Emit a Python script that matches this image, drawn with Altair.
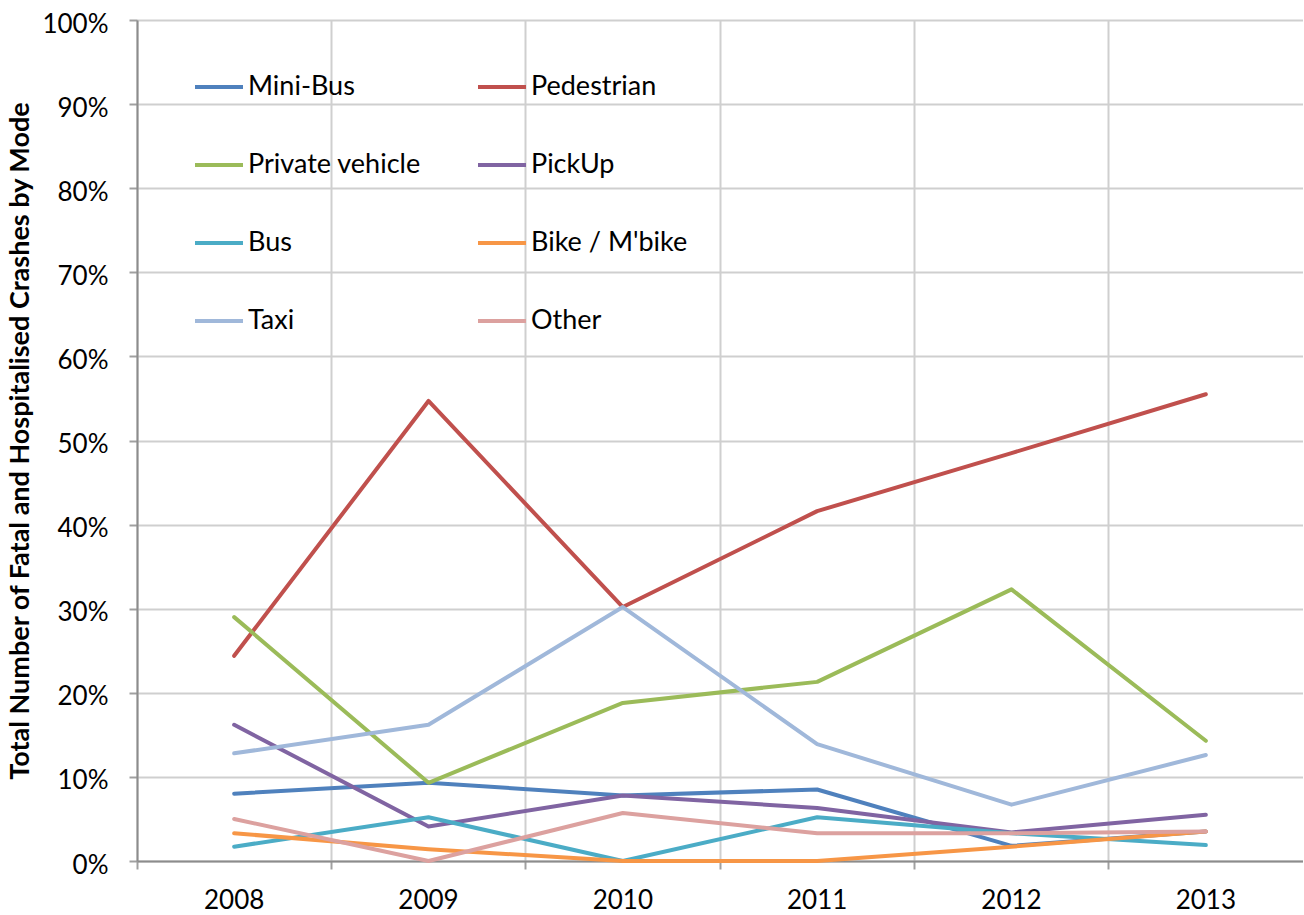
import altair as alt
import pandas as pd

years = ["2008", "2009", "2010", "2011", "2012", "2013"]
series = ["Mini-Bus", "Pedestrian", "Private vehicle", "PickUp", "Bus", "Bike / M'bike", "Taxi", "Other"]
colors = ["#4f81bd", "#c0504d", "#9bbb59", "#8064a2", "#4bacc6", "#f79646", "#a0b8da", "#dca19f"]

mini_bus = [8.0, 9.3, 7.8, 8.5, 1.8, 3.5]
pedestrian = [24.4, 54.7, 30.2, 41.6, 48.5, 55.5]
private_vehicle = [29.0, 9.3, 18.8, 21.3, 32.3, 14.3]
pickup = [16.2, 4.1, 7.8, 6.3, 3.4, 5.5]
bus = [1.7, 5.2, 0.0, 5.2, 3.3, 1.9]
bike = [3.3, 1.4, 0.0, 0.0, 1.7, 3.5]
taxi = [12.8, 16.2, 30.2, 13.9, 6.7, 12.6]
other = [5.0, 0.0, 5.7, 3.3, 3.3, 3.5]

values = [mini_bus, pedestrian, private_vehicle, pickup, bus, bike, taxi, other]
rows = []
for s, vals in zip(series, values):
    for y, v in zip(years, vals):
        rows.append({"Year": y, "Mode": s, "Share": v / 100.0})
df = pd.DataFrame(rows)

FONT = "Lato"

chart = alt.Chart(df).mark_line(strokeWidth=4, strokeCap="round", strokeJoin="round").encode(
    x=alt.X("Year:O", bandPosition=0.5,
            scale=alt.Scale(type="band", paddingInner=0, paddingOuter=0, domain=years),
            axis=alt.Axis(title=None, bandPosition=0, labelAngle=0, grid=True,
                          gridColor="#cfcfcf", gridWidth=2, tickColor="#a0a0a0", tickWidth=2,
                          tickSize=8, domainColor="#8c8c8c", domainWidth=2,
                          labelFont=FONT, labelFontSize=26, labelColor="#000000",
                          labelPadding=18, labelAlign="center")),
    y=alt.Y("Share:Q", scale=alt.Scale(domain=[0, 1], nice=False),
            axis=alt.Axis(title="Total Number of Fatal and Hospitalised Crashes by Mode",
                          format=".0%", values=[i / 10 for i in range(11)],
                          grid=True, gridColor="#cfcfcf", gridWidth=2,
                          tickColor="#a0a0a0", tickWidth=2, tickSize=8,
                          domainColor="#8c8c8c", domainWidth=2,
                          labelFont=FONT, labelFontSize=26, labelColor="#000000",
                          labelPadding=21, labelOffset=4,
                          titleFont=FONT, titleFontSize=27, titleFontWeight="bold",
                          titleColor="#000000", titlePadding=7)),
    color=alt.Color("Mode:N", sort=series,
                    scale=alt.Scale(domain=series, range=colors),
                    legend=alt.Legend(title=None, orient="none", legendX=56, legendY=41,
                                      direction="horizontal",
                                      columns=2, symbolType="stroke", symbolSize=2304,
                                      symbolStrokeWidth=4, labelFont=FONT, labelFontSize=27,
                                      labelColor="#000000", labelOffset=3, rowPadding=39,
                                      columnPadding=49, padding=0, labelLimit=400)),
    order=alt.Order("Year:O"),
).properties(
    width=1166, height=841,
    autosize=alt.AutoSizeParams(type="none"),
    padding={"left": 137, "top": 20, "right": 0, "bottom": 54},
).configure_view(
    fill="#f4f4f4", stroke=None
).configure(background="#ffffff")

chart.save("out.html", embed_options={"renderer": "svg", "actions": False})
